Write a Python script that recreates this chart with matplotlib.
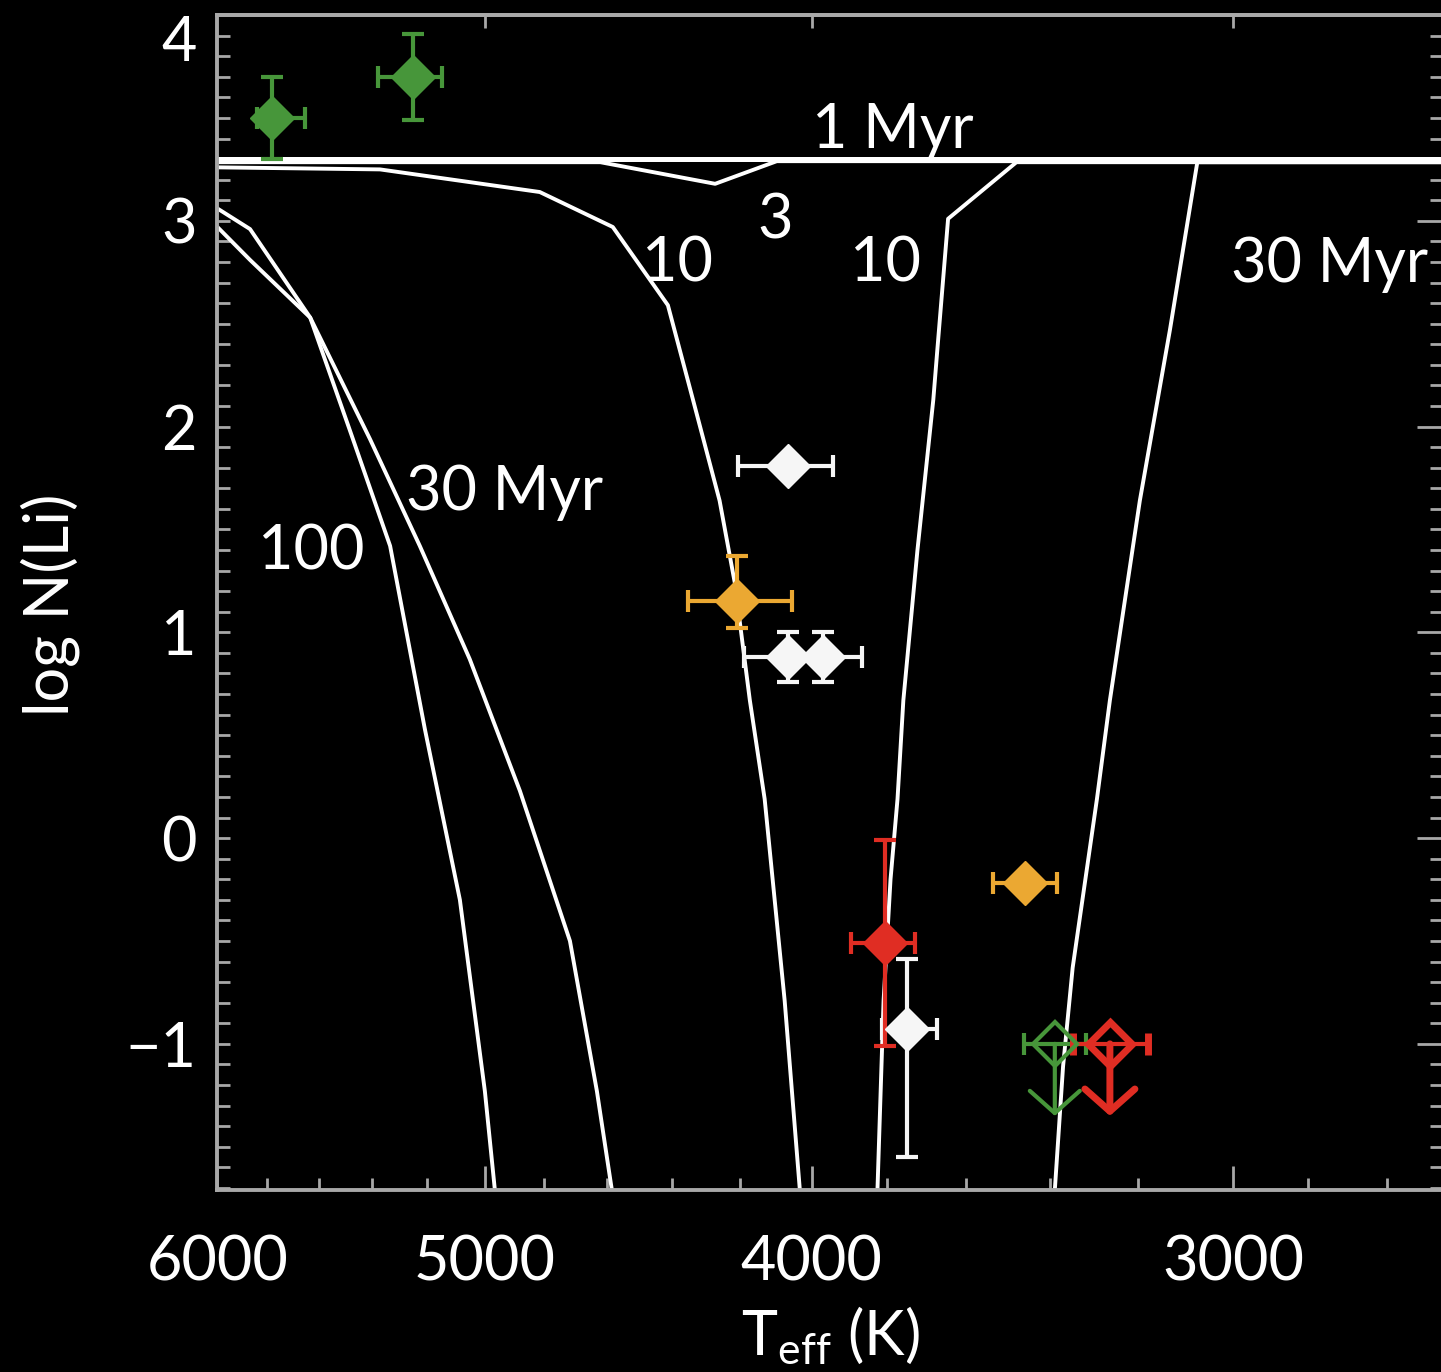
import matplotlib
matplotlib.use("Agg")
import matplotlib.pyplot as plt
from matplotlib.ticker import FixedLocator, NullFormatter, FixedFormatter

plt.rcParams['font.family'] = ['Lato', 'DejaVu Sans']
plt.rcParams['mathtext.fontset'] = 'custom'
plt.rcParams['mathtext.rm'] = 'Lato'

# Li depletion isochrones: Teff (K) and log N(Li)
iso_1myr_teff = [6000, 2600]
iso_1myr_li = [3.30, 3.30]
iso_3myr_teff = [6000, 4620, 4272, 4096, 2600]
iso_3myr_li = [3.285, 3.285, 3.18, 3.29, 3.29]
iso_10myr_hot_teff = [6000, 5370, 4815, 4581, 4412, 4337, 4259, 4215, 4172, 4130, 4074, 4032, 4020]
iso_10myr_hot_li = [3.26, 3.25, 3.14, 2.97, 2.59, 2.13, 1.64, 1.24, 0.67, 0.19, -0.79, -1.71, -1.8]
iso_10myr_cool_teff = [3827, 3824, 3808, 3790, 3772, 3757, 3721, 3681, 3671, 3644, 3478, 2600]
iso_10myr_cool_li = [-1.8, -1.71, -0.79, -0.20, 0.19, 0.67, 1.40, 2.13, 2.37, 3.01, 3.285, 3.285]
iso_30myr_hot_teff = [6000, 5868, 5632, 5407, 5226, 5051, 4881, 4717, 4631, 4584, 4578]
iso_30myr_hot_li = [3.06, 2.96, 2.53, 1.94, 1.42, 0.87, 0.23, -0.50, -1.23, -1.71, -1.8]
iso_30myr_cool_teff = [3385, 3388, 3369, 3347, 3292, 3263, 3197, 3132, 3074, 2600]
iso_30myr_cool_li = [-1.8, -1.71, -1.11, -0.63, 0.19, 0.67, 1.64, 2.47, 3.285, 3.285]
iso_100myr_teff = [6000, 5868, 5632, 5481, 5333, 5208, 5085, 4999, 4965, 4950]
iso_100myr_li = [2.97, 2.81, 2.53, 1.98, 1.42, 0.53, -0.30, -1.23, -1.71, -1.8]

# stars: teff, teff error (cool side, hot side), log N(Li), error (low, high)
green_teff = [5781, 5251]
green_teff_lo = [128, 103]
green_teff_hi = [60, 127]
green_li = [3.50, 3.70]
green_li_err = [0.20, 0.21]

orange_teff = [4209, 3458]
orange_teff_lo = [154, 75]
orange_teff_hi = [143, 75]
orange_li = [1.15, -0.22]
orange_li_lo = [0.13, 0.0]
orange_li_hi = [0.22, 0.0]

white_teff = [4064, 4064, 3968, 3748]
white_teff_lo = [122, 100, 103, 76]
white_teff_hi = [142, 126, 100, 64]
white_li = [1.81, 0.88, 0.88, -0.93]
white_li_lo = [0.0, 0.12, 0.12, 0.62]
white_li_hi = [0.0, 0.12, 0.12, 0.34]

red_teff = [3804]
red_teff_lo = [78]
red_teff_hi = [89]
red_li = [-0.51]
red_li_err = [0.50]

# upper limits
lim_green_teff = 3388
lim_green_err = 72
lim_red_teff = 3263
lim_red_err = 83
lim_li = -1.0
lim_arrow_to = -1.35

labels = ['1 Myr', '3', '10', '10', '30 Myr', '30 Myr', '100']
label_teff = [3784, 4102, 4384, 3804, 2808, 4932, 5628]
label_li = [3.44, 3.00, 2.79, 2.79, 2.79, 1.68, 1.39]

GREEN = '#47963a'
ORANGE = '#eba832'
RED = '#e02d23'
WHITE = '#f6f6f6'
GREY = '#a8a8a8'

fig = plt.figure(figsize=(14.41, 13.72), dpi=100, facecolor='black')
ax = fig.add_axes([0.1509, 0.1327, 0.8491, 0.8563])
ax.set_facecolor('black')
ax.set_xscale('log')

for t, li in [(iso_3myr_teff, iso_3myr_li),
              (iso_10myr_hot_teff, iso_10myr_hot_li), (iso_10myr_cool_teff, iso_10myr_cool_li),
              (iso_30myr_hot_teff, iso_30myr_hot_li), (iso_30myr_cool_teff, iso_30myr_cool_li),
              (iso_100myr_teff, iso_100myr_li)]:
    ax.plot(t, li, color='white', lw=2.8, zorder=2)
ax.plot(iso_1myr_teff, iso_1myr_li, color='white', lw=3.6, zorder=2)

eb = dict(fmt='D', ms=22, elinewidth=3, capsize=8, capthick=3, zorder=4)
ax.errorbar(green_teff, green_li, xerr=[green_teff_lo, green_teff_hi], yerr=green_li_err,
            color=GREEN, **eb)
ax.errorbar(orange_teff, orange_li, xerr=[orange_teff_lo, orange_teff_hi],
            yerr=[orange_li_lo, orange_li_hi], color=ORANGE, **eb)
ax.errorbar(white_teff, white_li, xerr=[white_teff_lo, white_teff_hi],
            yerr=[white_li_lo, white_li_hi], color=WHITE, **eb)
ax.errorbar(red_teff, red_li, xerr=[red_teff_lo, red_teff_hi], yerr=red_li_err,
            color=RED, **eb)

# upper limits: open diamonds with arrows
for t, e, c, lw in [(lim_green_teff, lim_green_err, GREEN, 3), (lim_red_teff, lim_red_err, RED, 5)]:
    ax.errorbar([t], [lim_li], xerr=[e], fmt='D', ms=22, mfc='none', mec=c, mew=lw,
                color=c, elinewidth=3, capsize=8, capthick=3, zorder=5)
    ax.annotate('', xy=(t, lim_arrow_to), xytext=(t, lim_li),
                arrowprops=dict(arrowstyle='->,head_length=0.8,head_width=0.9',
                                mutation_scale=20, color=c, lw=lw, shrinkA=0, shrinkB=0),
                zorder=5)

for s, t, li in zip(labels, label_teff, label_li):
    ax.text(t, li, s, color='white', fontsize=44, ha='center', va='center', zorder=3)

ax.set_xlim(6000, 2603)
ax.set_ylim(-1.71, 4.0)

ax.xaxis.set_major_locator(FixedLocator([6000, 5000, 4000, 3000]))
ax.xaxis.set_major_formatter(FixedFormatter(['6000', '5000', '4000', '3000']))
ax.xaxis.set_minor_locator(FixedLocator([5800, 5600, 5400, 5200, 4800, 4600, 4400, 4200,
                                         3800, 3600, 3400, 3200, 2850, 2700]))
ax.xaxis.set_minor_formatter(NullFormatter())
ax.yaxis.set_major_locator(FixedLocator([-1, 0, 1, 2, 3, 4]))
ax.yaxis.set_major_formatter(FixedFormatter(['\u22121', '0', '1', '2', '3', '4']))
ax.yaxis.set_minor_locator(FixedLocator([v / 10 for v in range(-17, 40)]))

ax.tick_params(which='both', direction='in', colors=GREY, labelcolor='white',
               top=False, right=False, width=2)
ax.tick_params(axis='x', which='major', length=17, labelsize=44, pad=32)
ax.tick_params(axis='x', which='minor', length=8.5)
ax.tick_params(axis='y', which='major', length=9, labelsize=44, pad=15)
ax.tick_params(axis='y', which='minor', length=9)
# the top label sits below its tick, as in the original
ax.yaxis.get_major_ticks()[5].label1.set_verticalalignment('top')

top = ax.secondary_xaxis('top')
top.set_xticks([5000, 4000, 3000])
top.xaxis.set_minor_locator(FixedLocator([]))
top.tick_params(direction='in', length=9.5, width=2, colors=GREY, labeltop=False)

right = ax.secondary_yaxis('right')
right.set_yticks([-1, 0, 1, 2, 3])
right.yaxis.set_minor_locator(FixedLocator([v / 10 for v in range(-17, 40)]))
right.tick_params(which='major', direction='in', length=17, width=2, colors=GREY, labelright=False)
right.tick_params(which='minor', direction='in', length=8, width=2, colors=GREY)

for sp in list(ax.spines.values()) + list(top.spines.values()) + list(right.spines.values()):
    sp.set_color(GREY)
    sp.set_linewidth(2.8)
ax.spines['right'].set_visible(False)
right.spines['right'].set_visible(False)

fig.text(830 / 1441, 1 - 1336 / 1372, r'T$_{\rm eff}$ (K)', color='white', fontsize=44,
         ha='center', va='center')
fig.text(50 / 1441, 1 - 605 / 1372, 'log N(Li)', color='white', fontsize=44,
         rotation=90, ha='center', va='center')

fig.savefig('out.png', dpi=100, facecolor='black')
